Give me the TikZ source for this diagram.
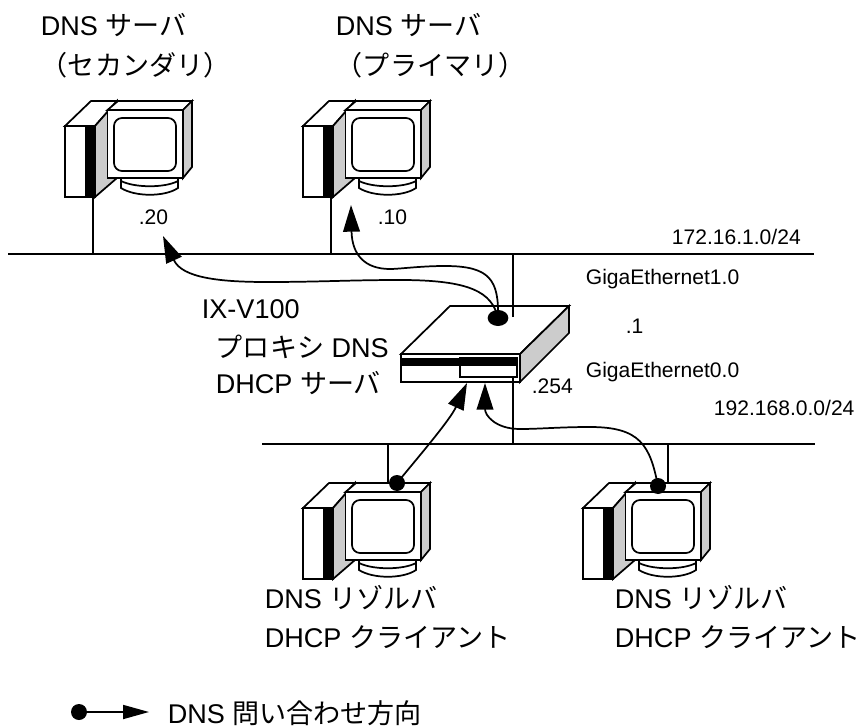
\documentclass[tikz,border=0pt]{standalone}
\usepackage{fontspec}
\setmainfont{Liberation Sans}
\newfontfamily\jpfont{Noto Sans CJK JP}
\newcommand{\jp}[1]{{\jpfont #1}}
\usepackage{tikz}
\usetikzlibrary{arrows.meta, shapes.geometric}

\begin{document}
\begin{tikzpicture}[
		x=0.75pt, y=-0.75pt,
		line width=1.3pt,
		biglabel/.style={anchor=base west, inner sep=0pt, font=\fontsize{20.3}{24}\selectfont},
		smalllabel/.style={anchor=base west, inner sep=0pt, font=\fontsize{15.8}{18}\selectfont},
		netline/.style={line width=1.3pt},
		dotnode/.style={circle, fill=black, inner sep=0pt, minimum size=12pt},
		arrow/.style={-{Triangle[length=20pt, width=12.5pt]}, line width=1.3pt},
		computer/.pic={
			% base
			\draw[fill=white] (56,48) -- (56,62) .. controls (70,71) and (100,71) .. (113,62) -- (113,48) -- cycle;
			\draw (56,55) .. controls (70,62) and (100,62) .. (113,55);
			% tower
			\draw[fill=white] (0,0) -- (26,-25) -- (52,-25) -- (30,0) -- cycle;
			\draw[fill=gray!40] (30,0) -- (52,-25) -- (52,52) -- (30,71) -- cycle;
			\draw[fill=white] (0,0) rectangle (30,71);
			\fill[black] (20,0) rectangle (30,71);
			% monitor
			\draw[fill=white] (42.5,-16) -- (53,-25) -- (127,-25) -- (118,-16) -- cycle;
			\draw[fill=gray!40] (118,-16) -- (127,-25) -- (127,41) -- (118,52) -- cycle;
			\draw[fill=white] (42.5,-16) rectangle (118,52);
			\draw[rounded corners=6pt] (49,-8) rectangle (111,45);
			\coordinate (-bottom) at (28,71);
			\coordinate (-top) at (85,-25);
		},
		]
		\useasboundingbox (0,0) rectangle (867,727);
		
		%% servers
		\pic (secondary) at (65,126) {computer};
		\pic (primary) at (303,126) {computer};
		
		%% router
		\draw[fill=white] (401,354) -- (450,306) -- (569,306) -- (520,354) -- cycle;
		\draw[fill=gray!40] (520,354) -- (569,306) -- (569,333) -- (520,382) -- cycle;
		\draw[fill=white] (401,354) rectangle (520,382);
		\draw[fill=white] (460,358) rectangle (517,377);
		\fill[black] (401,358) rectangle (518,366);
		\coordinate (gigaOne) at (513,317);
		\coordinate (gigaZero) at (513,377);
		
		%% clients
		\pic (clientA) at (303,508) {computer};
		\pic (clientB) at (583,508) {computer};
		
		%% networks
		\coordinate (netTopL) at (8,254);
		\coordinate (netTopR) at (814,254);
		\coordinate (netLowL) at (262,444);
		\coordinate (netLowR) at (815,444);
		\draw[netline] (netTopL) -- (netTopR);
		\draw[netline] (netLowL) -- (netLowR);
		\draw[netline] (secondary-bottom) -- (secondary-bottom |- netTopL);
		\draw[netline] (primary-bottom) -- (primary-bottom |- netTopL);
		\draw[netline] (gigaOne) -- (gigaOne |- netTopL);
		\draw[netline] (gigaZero) -- (gigaZero |- netLowL);
		\draw[netline] (clientA-top) -- (clientA-top |- netLowL);
		\draw[netline] (clientB-top) -- (clientB-top |- netLowL);
		
		%% query arrows
		\node[ellipse, fill=black, inner sep=0pt, minimum width=15.5pt, minimum height=12pt] (dotRouter) at (498,318) {};
		\node[dotnode] (dotA) at (397,483) {};
		\node[dotnode] (dotB) at (658,486) {};
		\coordinate (tipSecondary) at (163,236);
		\coordinate (tipPrimary) at (351,205);
		\coordinate (tipRouterL) at (467,383);
		\coordinate (tipRouterR) at (485,383);
		
		\draw[arrow] (dotRouter.center) .. controls (492,292) and (470,280) .. (400,280)
			.. controls (350,280) and (320,282) .. (267,282)
			.. controls (220,282) and (182,278) .. (tipSecondary);
		\draw[arrow] (dotRouter.center) .. controls (499,280) and (490,266) .. (445,266)
			.. controls (420,266) and (400,269) .. (390,269)
			.. controls (365,269) and (352,255) .. (tipPrimary);
		\draw[arrow] (dotA.center) .. controls (420,455) and (450,420) .. (tipRouterL);
		\draw[arrow] (dotB.center) .. controls (650,445) and (640,427) .. (590,427)
			.. controls (560,427) and (540,429) .. (520,429)
			.. controls (495,429) and (485,415) .. (tipRouterR);
		
		%% labels
		\node[biglabel] (lblSecA) at (40,36) {DNS \jp{サーバ}};
		\node[biglabel] (lblSecB) at (40,76) {\jp{（セカンダリ）}};
		\node[biglabel] (lblPriA) at (335,36) {DNS \jp{サーバ}};
		\node[biglabel] (lblPriB) at (335,76) {\jp{（プライマリ）}};
		\node[biglabel] (lblIx) at (201,318) {IX-V100};
		\node[biglabel] (lblProxy) at (215,357) {\jp{プロキシ} DNS};
		\node[biglabel] (lblDhcp) at (215,393) {DHCP \jp{サーバ}};
		\node[biglabel] (lblResA) at (264,608) {DNS \jp{リゾルバ}};
		\node[biglabel] (lblCliA) at (264,647) {DHCP \jp{クライアント}};
		\node[biglabel] (lblResB) at (614,608) {DNS \jp{リゾルバ}};
		\node[biglabel] (lblCliB) at (614,647) {DHCP \jp{クライアント}};
		
		\node[smalllabel] (lblTwenty) at (138,225) {.20};
		\node[smalllabel] (lblTen) at (377,225) {.10};
		\node[smalllabel] (lblNetTop) at (671,245) {172.16.1.0/24};
		\node[smalllabel] (lblGigaOne) at (585,285) {GigaEthernet1.0};
		\node[smalllabel] (lblOne) at (625,333) {.1};
		\node[smalllabel] (lblGigaZero) at (585,377) {GigaEthernet0.0};
		\node[smalllabel] (lblTwoFive) at (531,393) {.254};
		\node[smalllabel] (lblNetLow) at (713,415) {192.168.0.0/24};
		
		%% legend
		\node[dotnode] (dotLegend) at (79,712) {};
		\coordinate (tipLegend) at (149,712);
		\draw[-{Triangle[length=19.5pt, width=10.5pt]}, line width=1.3pt] (dotLegend.center) -- (tipLegend);
		\node[biglabel] (lblLegend) at (167,723) {DNS \jp{問い合わせ方向}};
		
	\end{tikzpicture}
\end{document}
